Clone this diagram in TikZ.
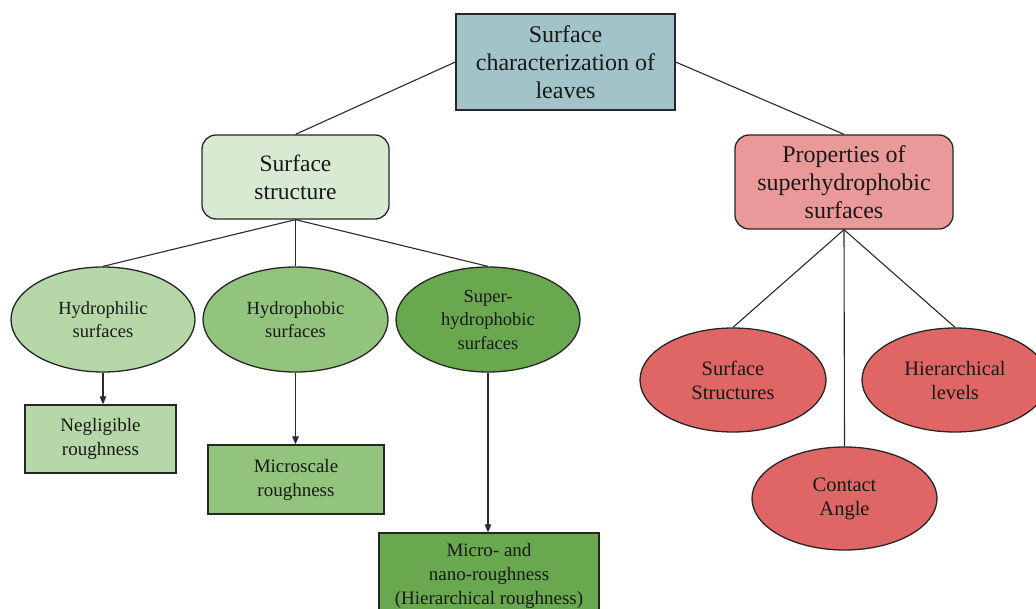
\documentclass[tikz,border=0pt]{standalone}
\usepackage{fontspec}
\setmainfont{Liberation Serif}
\usetikzlibrary{shapes.geometric,arrows.meta}
\definecolor{topc}{HTML}{A2C4C9}
\definecolor{ssc}{HTML}{D9EAD3}
\definecolor{propc}{HTML}{EA9999}
\definecolor{gA}{HTML}{B6D7A8}
\definecolor{gB}{HTML}{93C47D}
\definecolor{gC}{HTML}{6AA84F}
\definecolor{redc}{HTML}{E06666}
\definecolor{edgec}{HTML}{2A2A2A}
\tikzset{
  bigtxt/.style={font=\fontsize{24}{28}\selectfont, align=center, text=black!90},
  midtxt/.style={font=\fontsize{18.5}{23.5}\selectfont, align=center, text=black!90},
  boxtxt/.style={font=\fontsize{19}{24}\selectfont, align=center, text=black!90},
  redtxt/.style={font=\fontsize{20.5}{24}\selectfont, align=center, text=black!90},
  boxbase/.style={draw=black!85, line width=1.3pt, inner sep=0pt},
  sqbox/.style={boxbase, rectangle},
  rbox/.style={boxbase, rectangle, rounded corners=14pt},
  ell/.style={boxbase, ellipse},
  conn/.style={draw=edgec, line width=1.1pt},
  arr/.style={conn, -{Triangle[length=8pt,width=6.5pt]}}
}
\begin{document}
\begin{tikzpicture}[x=1pt,y=-1pt]
\useasboundingbox (0,0) rectangle (1036,608);
% top
\node[sqbox, bigtxt, fill=topc, minimum width=219pt, minimum height=96pt] (top) at (565.5,62) {Surface\\characterization of\\leaves};
% level 2
\node[rbox, bigtxt, fill=ssc, minimum width=187pt, minimum height=84pt, font=\fontsize{23.5}{28}\selectfont] (ss) at (295.5,177) {Surface\\structure};
\node[rbox, bigtxt, fill=propc, minimum width=218pt, minimum height=94pt] (prop) at (844,182) {Properties of\\superhydrophobic\\surfaces};
% green ellipses
\node[ell, midtxt, fill=gA, minimum width=184pt, minimum height=105pt] (e1) at (103,319.5) {Hydrophilic\\surfaces};
\node[ell, midtxt, fill=gB, minimum width=185pt, minimum height=105pt] (e2) at (295.5,319.5) {Hydrophobic\\surfaces};
\node[ell, midtxt, fill=gC, minimum width=184pt, minimum height=105pt] (e3) at (488,319.5) {Super-\\hydrophobic\\surfaces};
% green boxes
\node[sqbox, boxtxt, fill=gA, minimum width=151pt, minimum height=68pt] (b1) at (100.5,439) {Negligible\\roughness};
\node[sqbox, boxtxt, fill=gB, minimum width=176pt, minimum height=69pt] (b2) at (296,479.5) {Microscale\\roughness};
\node[sqbox, boxtxt, fill=gC, minimum width=220pt, minimum height=86pt] (b3) at (489,576) {Micro- and\\nano-roughness\\(Hierarchical roughness)};
% red ellipses
\node[ell, redtxt, fill=redc, minimum width=186pt, minimum height=104pt] (r1) at (733,380) {Surface\\Structures};
\node[ell, redtxt, fill=redc, minimum width=186pt, minimum height=104pt] (r3) at (955,380) {Hierarchical\\levels};
\node[ell, redtxt, fill=redc, minimum width=185pt, minimum height=103pt] (r2) at (844.5,498.5) {Contact\\Angle};
% connectors
\draw[conn] (top.west) -- (ss.north);
\draw[conn] (top.east) -- (prop.north);
\draw[conn] (ss.south) -- (e1.north);
\draw[conn] (ss.south) -- (e2.north);
\draw[conn] (ss.south) -- (e3.north);
\draw[conn] (prop.south) -- (r1.north);
\draw[conn] (prop.south) -- (r2.north);
\draw[conn] (prop.south) -- (r3.north);
\draw[arr] (e1.south) -- (b1.north -| e1.south);
\draw[arr] (e2.south) -- (b2.north -| e2.south);
\draw[arr] (e3.south) -- (b3.north -| e3.south);
\end{tikzpicture}
\end{document}
